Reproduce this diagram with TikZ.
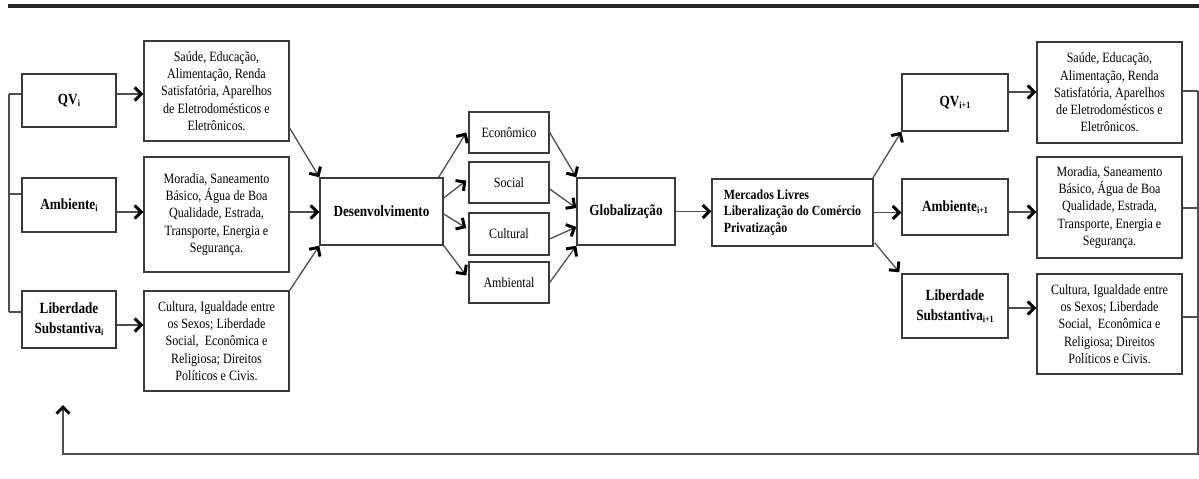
\documentclass[tikz,border=0pt]{standalone}
\usepackage{fontspec}
\setmainfont{Liberation Serif}[FakeStretch=0.85]
\usetikzlibrary{arrows.meta,calc,shadows}

\definecolor{boxgray}{HTML}{3A3A3A}
\definecolor{linegray}{HTML}{4E4E4E}

% lowered small index used in the bold labels
\newcommand\idx[1]{\raisebox{-1.8pt}{\fontsize{9.5}{10}\selectfont #1}}

\begin{document}
\begin{tikzpicture}[x=1pt,y=-1pt,
  box/.style={draw=boxgray, line width=1.4pt, fill=white, inner sep=2pt,
    align=center,
    drop shadow={opacity=0.22, shadow xshift=1.2pt, shadow yshift=-1.2pt}},
  body/.style={font=\fontsize{14.2}{17.3}\selectfont},
  head/.style={font=\fontsize{15.5}{20}\selectfont\bfseries},
  conn/.style={draw=linegray, line width=1.3pt},
  arr/.style={conn, -{Straight Barb[length=6.5pt,width=13pt,line width=3pt,color=black]}},
]
\useasboundingbox (0,0) rectangle (1199,479);

% heavy rule across the top
\draw[line width=4pt, color=black!85] (8,6) -- (1199,6);

% ---------- state i ----------
\node[box, head, minimum width=94pt, minimum height=53pt] (qvL) at (69,100.5) {QV\idx{i}};
\node[box, head, minimum width=94pt, minimum height=54pt] (ambL) at (69,205) {Ambiente\idx{i}};
\node[box, head, minimum width=94pt, minimum height=57pt] (libL) at (69,319.5) {Liberdade\\Substantiva\idx{i}};

\node[box, body, minimum width=145pt, minimum height=100pt] (saL) at (216.5,91)
  {Saúde, Educação,\\Alimentação, Renda\\Satisfatória, Aparelhos\\de Eletrodomésticos e\\Eletrônicos.};
\node[box, body, minimum width=145pt, minimum height=115pt] (moL) at (216.5,214.5)
  {Moradia, Saneamento\\Básico, Água de Boa\\Qualidade, Estrada,\\Transporte, Energia e\\Segurança.};
\node[box, body, minimum width=145pt, minimum height=100pt] (cuL) at (216.5,341)
  {Cultura, Igualdade entre\\os Sexos; Liberdade\\Social,\ \ Econômica e\\Religiosa; Direitos\\Políticos e Civis.};

% ---------- development and globalisation ----------
\node[box, head, minimum width=123pt, minimum height=67pt] (des) at (381.5,211.5) {Desenvolvimento};

\node[box, body, minimum width=80pt, minimum height=41pt] (eco) at (509,132.5) {Econômico};
\node[box, body, minimum width=80pt, minimum height=41pt] (soc) at (509,182.5) {Social};
\node[box, body, minimum width=80pt, minimum height=42pt] (cul) at (509,234) {Cultural};
\node[box, body, minimum width=80pt, minimum height=41pt] (amb) at (509,282.5) {Ambiental};

\node[box, head, minimum width=98pt, minimum height=67pt] (glo) at (626,211.5) {Globalização};

\node[box, font=\fontsize{14}{16.5}\selectfont\bfseries, align=left,
  minimum width=161pt, minimum height=67pt] (mer) at (792.5,212.5)
  {Mercados Livres\\Liberalização do Comércio\\Privatização};

% ---------- state i+1 ----------
\node[box, head, minimum width=106pt, minimum height=57pt] (qvR) at (955,102.5) {QV\idx{i+1}};
\node[box, head, minimum width=106pt, minimum height=56pt] (ambR) at (955,207) {Ambiente\idx{i+1}};
\node[box, head, minimum width=106pt, minimum height=64pt] (libR) at (955,306) {Liberdade\\Substantiva\idx{i+1}};

\node[box, body, minimum width=145pt, minimum height=101pt] (saR) at (1109.5,92.5)
  {Saúde, Educação,\\Alimentação, Renda\\Satisfatória, Aparelhos\\de Eletrodomésticos e\\Eletrônicos.};
\node[box, body, minimum width=145pt, minimum height=101pt] (moR) at (1109.5,207.5)
  {Moradia, Saneamento\\Básico, Água de Boa\\Qualidade, Estrada,\\Transporte, Energia e\\Segurança.};
\node[box, body, minimum width=145pt, minimum height=100pt] (cuR) at (1109.5,324)
  {Cultura, Igualdade entre\\os Sexos; Liberdade\\Social,\ \ Econômica e\\Religiosa; Direitos\\Políticos e Civis.};

% ---------- bracket joining the three dimensions of state i ----------
\coordinate (lt) at (9,94);
\coordinate (lb) at (9,312);
\draw[conn] (lt) -- (lb);
\draw[conn] (lt) -- (lt -| qvL.west);
\draw[conn] ($(ambL.west)+(0,-11)$) coordinate (la) -- (la -| lt);
\draw[conn] (lb) -- (lb -| libL.west);

% ---------- state i to its components ----------
\draw[arr] ($(qvL.east)+(0,-6.5)$) coordinate (p1) -- (p1 -| saL.west);
\draw[arr] ($(ambL.east)+(0,7)$) coordinate (p2) -- (p2 -| moL.west);
\draw[arr] ($(libL.east)+(0,5.5)$) coordinate (p3) -- (p3 -| cuL.west);

% ---------- components into development ----------
\draw[arr] ($(saL.east)+(0,37)$) -- (des.north west);
\draw[arr] ($(moL.east)+(0,-2.5)$) coordinate (p4) -- (p4 -| des.west);
\draw[arr] (cuL.north east) -- (des.south west);

% ---------- development fan-out ----------
\draw[arr] ($(des.north east)+(-5,0)$) -- ($(eco.west)+(-2,0)$);
\draw[arr] ($(des.east)+(0,-13.5)$) -- ($(soc.west)+(-2,-2)$);
\draw[arr] ($(des.east)+(0,2.5)$) -- ($(cul.west)+(-2,-6)$);
\draw[arr] (des.south east) -- ($(amb.west)+(-2,-7)$);

% ---------- fan-in to globalisation ----------
\draw[arr] (eco.east) -- (glo.north west);
\draw[arr] ($(soc.east)+(0,6.5)$) -- ($(glo.west)+(0,-3.5)$);
\draw[arr] ($(cul.east)+(0,5)$) -- ($(glo.west)+(0,15.5)$);
\draw[arr] (amb.east) -- (glo.south west);

\draw[arr] (glo.east) -- (glo.east -| mer.west);

% ---------- markets to state i+1 ----------
\draw[arr] ($(mer.north east)+(-1,0)$) -- (qvR.south west);
\draw[arr] (mer.east) -- (mer.east -| ambR.west);
\draw[arr] ($(mer.south east)+(1,-4)$) -- ($(libR.north west)+(-2,-1)$);

\draw[arr] ($(qvR.east)+(0,-10.5)$) coordinate (p5) -- (p5 -| saR.west);
\draw[arr] ($(ambR.east)+(0,5)$) coordinate (p6) -- (p6 -| moR.west);
\draw[arr] ($(libR.east)+(0,2)$) coordinate (p7) -- (p7 -| cuR.west);

% ---------- feedback loop back to state i ----------
\coordinate (rt) at (1198,91);
\coordinate (rb) at (1198,454);
\coordinate (fb) at (63,454);
\coordinate (fe) at (63,405);
\draw[conn] ($(saR.east)+(0,-1.5)$) coordinate (q1) -- (q1 -| rt);
\draw[conn] ($(moR.east)+(0,0.5)$) coordinate (q2) -- (q2 -| rt);
\draw[conn] ($(cuR.east)+(0,-7)$) coordinate (q3) -- (q3 -| rt);
\draw[arr] (rt) -- (rb) -- (fb) -- (fe);
\end{tikzpicture}
\end{document}
